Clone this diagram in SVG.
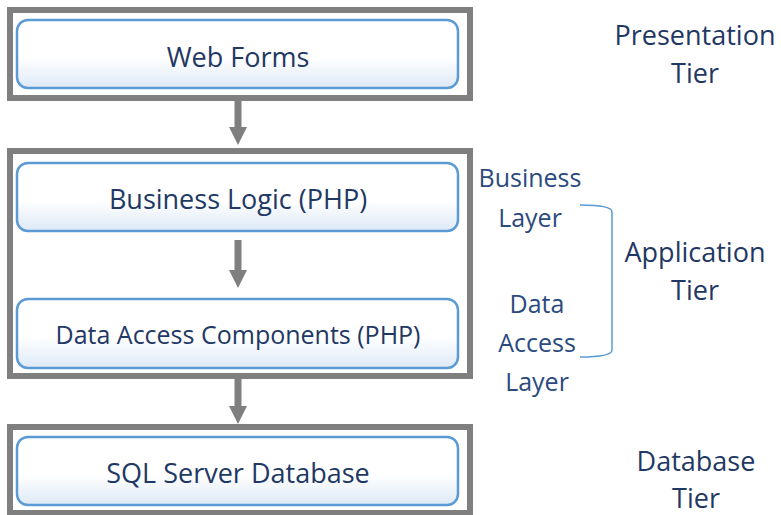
<svg xmlns="http://www.w3.org/2000/svg" width="781" height="515" viewBox="0 0 781 515">
<defs>
<linearGradient id="g" x1="0" y1="0" x2="0" y2="1">
<stop offset="0" stop-color="#ffffff"/>
<stop offset="0.55" stop-color="#ffffff"/>
<stop offset="1" stop-color="#dde9f6"/>
</linearGradient>
<marker id="ah" markerUnits="userSpaceOnUse" markerWidth="18" markerHeight="18" refX="0" refY="9" orient="auto" viewBox="0 0 18 18">
<path d="M0,0 L18,9 L0,18 Z" fill="#7f7f7f"/>
</marker>
</defs>
<style>
.tier{fill:#ffffff;stroke:#7f7f7f;stroke-width:6}
.comp{fill:url(#g);stroke:#5b9bd5;stroke-width:2.5}
.t{font-family:"Open Sans","Noto Sans","DejaVu Sans",sans-serif;fill:#1f3864;text-anchor:middle}
.lbl{font-family:"Open Sans","Noto Sans","DejaVu Sans",sans-serif;fill:#2b4a7e;text-anchor:middle;font-size:25px}
.tl{font-family:"Open Sans","Noto Sans","DejaVu Sans",sans-serif;fill:#1f3864;text-anchor:middle;font-size:27px}
.conn{stroke:#7f7f7f;stroke-width:7;fill:none}
</style>
<g id="presentation-tier">
<rect class="tier" x="10" y="10" width="460" height="88"/>
</g>
<g id="web-forms">
<rect class="comp" x="17" y="20" width="441" height="68" rx="11"/>
<text class="t" x="238" y="67" font-size="27">Web Forms</text>
</g>
<g id="application-tier">
<rect class="tier" x="10" y="151" width="460" height="225"/>
</g>
<g id="business-logic">
<rect class="comp" x="17" y="163" width="441" height="68" rx="11"/>
<text class="t" x="238" y="209" font-size="27">Business Logic (PHP)</text>
</g>
<g id="data-access">
<rect class="comp" x="17" y="299" width="441" height="69" rx="11"/>
<text class="t" x="238" y="344" font-size="25">Data Access Components (PHP)</text>
</g>
<g id="database-tier">
<rect class="tier" x="10" y="427" width="460" height="86"/>
</g>
<g id="sql-server">
<rect class="comp" x="17" y="437" width="441" height="68" rx="11"/>
<text class="t" x="238" y="483" font-size="27">SQL Server Database</text>
</g>
<g id="connectors">
<line class="conn" x1="238" y1="100" x2="238" y2="127" marker-end="url(#ah)"/>
<line class="conn" x1="238" y1="240" x2="238" y2="270" marker-end="url(#ah)"/>
<line class="conn" x1="238" y1="378" x2="238" y2="406" marker-end="url(#ah)"/>
</g>
<g id="labels">
<text class="tl" x="695" y="45">Presentation</text>
<text class="tl" x="695" y="83">Tier</text>
<text class="lbl" x="530" y="187">Business</text>
<text class="lbl" x="530" y="227">Layer</text>
<text class="lbl" x="537" y="313">Data</text>
<text class="lbl" x="537" y="352">Access</text>
<text class="lbl" x="537" y="391">Layer</text>
<text class="tl" x="695" y="262">Application</text>
<text class="tl" x="695" y="300">Tier</text>
<text class="tl" x="696" y="471">Database</text>
<text class="tl" x="696" y="508">Tier</text>
<path d="M580,205 Q612,205 612,212 L612,350 Q612,357 580,357" fill="none" stroke="#5b9bd5" stroke-width="1.5"/>
</g>
</svg>
